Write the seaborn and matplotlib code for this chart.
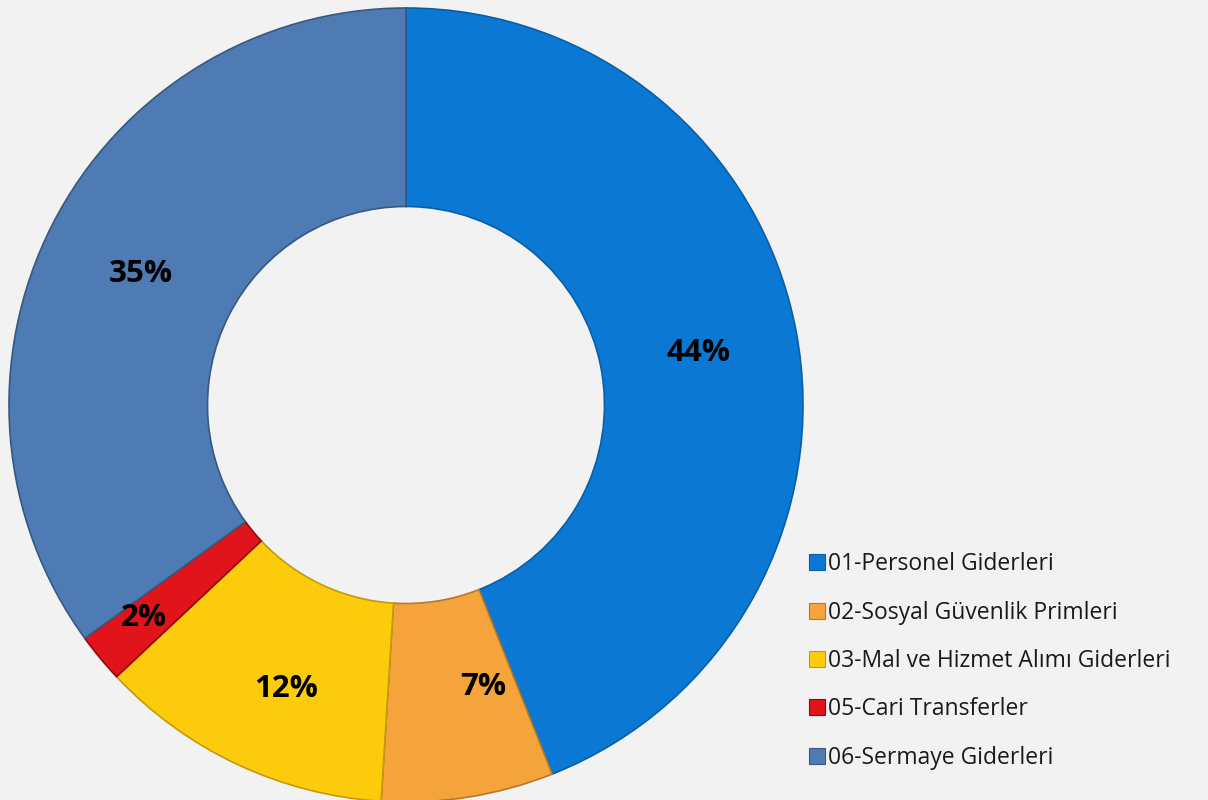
import matplotlib
matplotlib.use("Agg")
import matplotlib.pyplot as plt
import seaborn as sns
import numpy as np
from matplotlib.lines import Line2D

categories = ["01-Personel Giderleri", "02-Sosyal Güvenlik Primleri",
              "03-Mal ve Hizmet Alımı Giderleri", "05-Cari Transferler",
              "06-Sermaye Giderleri"]
values = [44, 7, 12, 2, 35]
colors = ["#0B79D3", "#F4A43A", "#FCCB0C", "#E0141A", "#4E7BB3"]
edge_colors = ["#0A5EA6", "#B9772A", "#C49A0A", "#8E0C10", "#37597F"]

sns.set_theme(style="white")
plt.rcParams['font.family'] = ['Open Sans', 'DejaVu Sans']

W, H = 1208, 800
fig = plt.figure(figsize=(W / 100, H / 100), dpi=100, facecolor="#F2F2F2")
cx, cy, R = 406, 405, 397
ax = fig.add_axes([(cx - R) / W, (H - cy - R) / H, 2 * R / W, 2 * R / H])
ax.set_facecolor("#F2F2F2")

wedges, _ = ax.pie(values, colors=colors, startangle=90, counterclock=False,
                   radius=1.0, wedgeprops=dict(width=0.5, linewidth=1.2))
for w, ec in zip(wedges, edge_colors):
    w.set_edgecolor(ec)

label_r = {3: 0.84}
label_shift = {1: (0.077, 0.031), 2: (0.018, -0.038), 3: (-0.012, 0.0)}
total = sum(values)
cum = 0
for i, v in enumerate(values):
    mid = 90 - 360 * (cum + v / 2) / total
    cum += v
    r = label_r.get(i, 0.75)
    ang = np.deg2rad(mid)
    dx, dy = label_shift.get(i, (0, -0.01))
    ax.text(r * np.cos(ang) + dx, r * np.sin(ang) + dy, f"{v}%", ha="center", va="center",
            fontsize=22.5, fontweight="bold", color="black")
ax.set_xlim(-1, 1)
ax.set_ylim(-1, 1)
ax.set_aspect("equal")
ax.axis("off")

handles = [Line2D([], [], marker="s", linestyle="none", markersize=11,
                  markerfacecolor=c, markeredgecolor=ec, markeredgewidth=0.8)
           for c, ec in zip(colors, edge_colors)]
leg = fig.legend(handles, categories, loc="upper left",
                 bbox_to_anchor=(794 / W, 1 - 541 / H), frameon=False,
                 fontsize=16.5, labelspacing=1.06, handletextpad=0.0,
                 handlelength=1.0, borderpad=0, labelcolor="#1a1a1a")

fig.savefig("out.png", dpi=100, facecolor=fig.get_facecolor())
